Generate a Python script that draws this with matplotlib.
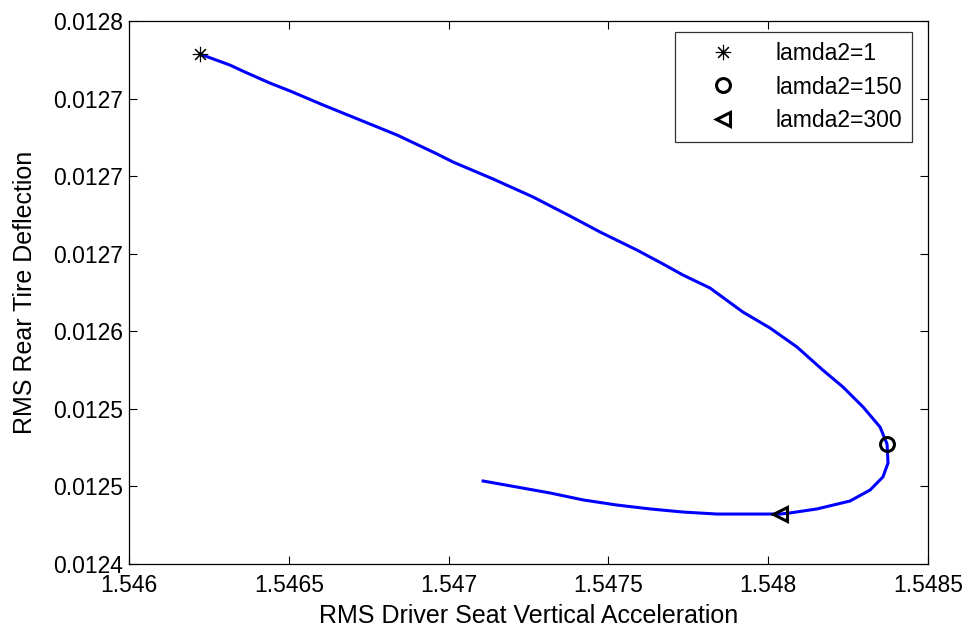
import matplotlib

matplotlib.use("Agg")
import matplotlib.pyplot as plt

plt.rcParams["font.family"] = ["Liberation Sans", "DejaVu Sans"]

# Pareto 前沿：座椅垂向加速度 RMS vs 后轮胎动变形 RMS
acc = [1.546222, 1.546316, 1.546363, 1.546441, 1.546504, 1.546607, 1.546723,
       1.546839, 1.546964, 1.547014, 1.547139, 1.547264, 1.547380, 1.547474,
       1.547589, 1.547671, 1.547733, 1.547818, 1.547921, 1.548006, 1.548090,
       1.548171, 1.548234, 1.548297, 1.548350, 1.548372, 1.548375, 1.548359,
       1.548319, 1.548256, 1.548153, 1.548068, 1.548037, 1.547840, 1.547733,
       1.547630, 1.547527, 1.547421, 1.547317, 1.547214, 1.547108]
tire = [0.0127787, 0.0127716, 0.0127671, 0.0127600, 0.0127549, 0.0127459,
        0.0127362, 0.0127265, 0.0127143, 0.0127091, 0.0126982, 0.0126866,
        0.0126743, 0.0126640, 0.0126524, 0.0126434, 0.0126363, 0.0126279,
        0.0126124, 0.0126021, 0.0125899, 0.0125750, 0.0125641, 0.0125512,
        0.0125383, 0.0125273, 0.0125151, 0.0125061, 0.0124977, 0.0124906,
        0.0124855, 0.0124829, 0.0124822, 0.0124822, 0.0124835, 0.0124855,
        0.0124880, 0.0124913, 0.0124958, 0.0124996, 0.0125035]

# 三个权重点
marks = {
    "lamda2=1": (1.546222, 0.0127787, (8, 2, 0)),
    "lamda2=150": (1.548372, 0.0125273, "o"),
    "lamda2=300": (1.548037, 0.0124822, "<"),
}

xticks = [1.546, 1.5465, 1.547, 1.5475, 1.548, 1.5485]
xticklabels = ["1.546", "1.5465", "1.547", "1.5475", "1.548", "1.5485"]
yticks = [0.01245, 0.01250, 0.01255, 0.01260, 0.01265, 0.01270, 0.01275, 0.01280]
yticklabels = ["0.0124", "0.0125", "0.0125", "0.0126", "0.0127", "0.0127", "0.0127", "0.0128"]

fig = plt.figure(figsize=(9.72, 6.37), dpi=100)
ax = fig.add_axes([0.1327, 0.1146, 0.8220, 0.8524])

ax.plot(acc, tire, color="blue", lw=2.2, zorder=2)
for name, (x, y, m) in marks.items():
    if name == "lamda2=1":
        ax.plot(x, y, ls="none", marker=m, color="k", ms=11, mew=0.8, label=name, zorder=3)
    else:
        ax.plot(x, y, ls="none", marker=m, color="k", mfc="none", ms=10,
                mew=2.2, label=name, zorder=3)

ax.set_xlim(1.546, 1.5485)
ax.set_ylim(0.01245, 0.01280)
ax.set_xticks(xticks)
ax.set_xticklabels(xticklabels)
ax.set_yticks(yticks)
ax.set_yticklabels(yticklabels)
ax.tick_params(direction="in", top=True, right=True, length=6, width=0.8,
               labelsize=16.5)
ax.tick_params(axis="x", pad=7)
ax.tick_params(axis="y", pad=4)
for s in ax.spines.values():
    s.set_linewidth(0.9)

ax.set_xlabel("RMS Driver Seat Vertical Acceleration", fontsize=18, labelpad=5)
ax.set_ylabel("RMS Rear Tire Deflection", fontsize=18, labelpad=12)

leg = ax.legend(loc="upper right", bbox_to_anchor=(0.98, 0.98), fontsize=16.5,
                frameon=True, fancybox=False, edgecolor="black", borderpad=0.45,
                handletextpad=0.6, borderaxespad=0.0, labelspacing=0.45,
                handlelength=3.3)
leg.get_frame().set_linewidth(0.9)

fig.savefig("out.png", dpi=100)
